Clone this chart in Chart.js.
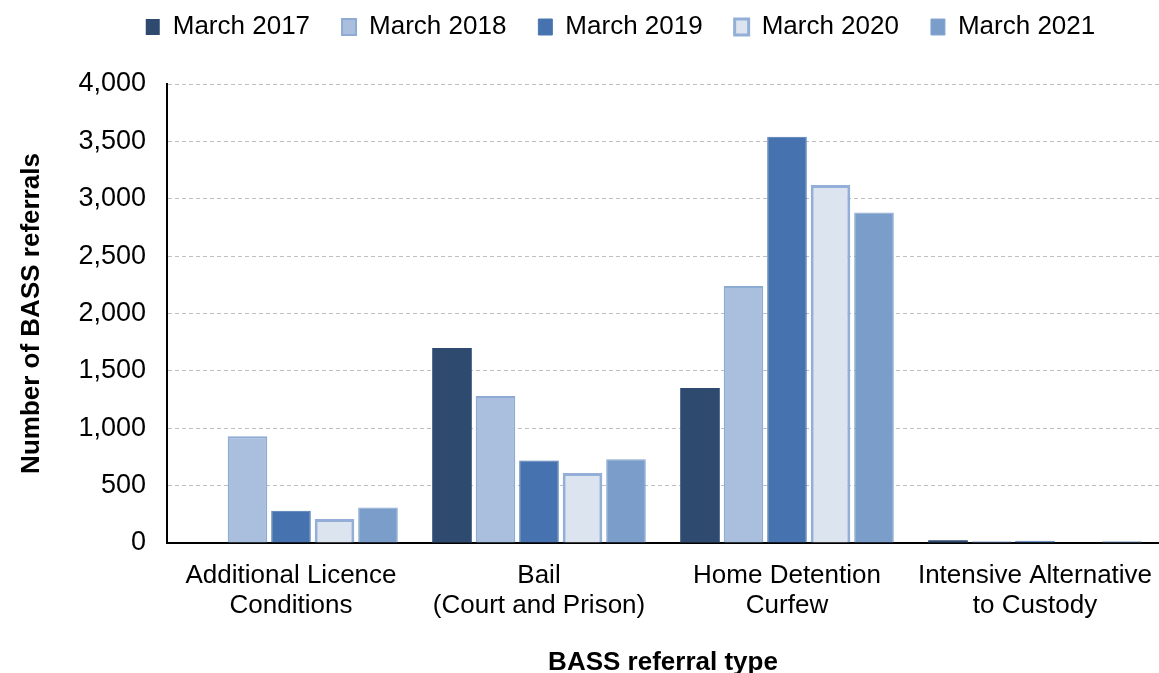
<!DOCTYPE html>
<html>
<head>
<meta charset="utf-8">
<script src="https://cdn.jsdelivr.net/npm/chart.js@4"></script>
<style>
  html, body { margin: 0; padding: 0; background: #ffffff; }
  #wrap { width: 1159px; height: 673px; position: relative; }
</style>
</head>
<body>
<div id="wrap"><canvas id="c"></canvas></div>
<script>
const categories = [
  ["Additional Licence", "Conditions"],
  ["Bail", "(Court and Prison)"],
  ["Home Detention", "Curfew"],
  ["Intensive Alternative", "to Custody"]
];
const seriesNames = ["March 2017", "March 2018", "March 2019", "March 2020", "March 2021"];
const march2017 = [null, 1700, 1350, 25];
const march2018 = [930, 1280, 2240, 15];
const march2019 = [280, 720, 3540, 20];
const march2020 = [210, 610, 3120, 0];
const march2021 = [310, 730, 2880, 15];
const yTicks = [0, 500, 1000, 1500, 2000, 2500, 3000, 3500, 4000];

const FONT = "'Liberation Sans', Arial, sans-serif";

const styles = [
  { bg: "#2E4A6F", border: "#2E4A6F", bw: 0 },
  { bg: "#A9BFDD", border: "#8EABD4", bw: 2 },
  { bg: "#4673AF", border: "#4A76B1", bw: 1 },
  { bg: "#DCE4F0", border: "#93AFD7", bw: 3 },
  { bg: "#7A9DCA", border: "#86A6D0", bw: 1 }
];
const values = [march2017, march2018, march2019, march2020, march2021];

const datasets = seriesNames.map((name, i) => ({
  label: name,
  data: values[i],
  backgroundColor: styles[i].bg,
  borderColor: styles[i].border,
  borderWidth: styles[i].bw,
  borderSkipped: 'start',
  barPercentage: 0.91,
  categoryPercentage: 0.877
}));

const legendFix = {
  id: 'legendFix',
  beforeInit(chart) {
    const lg = chart.legend;
    if (lg) {
      const orig = lg.fit.bind(lg);
      lg.fit = function () { orig(); this.height = 102; };
    }
  },
  afterLayout(chart) {
    const lg = chart.legend;
    if (lg) { lg.left += 40; lg.right += 40; }
  }
};

new Chart(document.getElementById('c'), {
  type: 'bar',
  data: { labels: categories, datasets },
  plugins: [legendFix],
  options: {
    responsive: true,
    maintainAspectRatio: false,
    animation: false,
    layout: { padding: { top: -18, left: 0, right: -2, bottom: 0 } },
    plugins: {
      tooltip: { enabled: false },
      legend: {
        position: 'top',
        align: 'center',
        labels: {
          boxWidth: 14,
          boxHeight: 16,
          padding: 32,
          color: '#000',
          font: { family: FONT, size: 26 }
        }
      }
    },
    scales: {
      x: {
        grid: { display: false, drawTicks: false },
        border: { display: true, color: '#000', width: 2 },
        ticks: {
          color: '#000',
          padding: 18,
          maxRotation: 0,
          autoSkip: false,
          font: { family: FONT, size: 26, lineHeight: 1.15 }
        },
        title: {
          display: true,
          text: 'BASS referral type',
          color: '#000',
          padding: { top: 0, bottom: -3 },
          font: { family: FONT, size: 26, weight: 'bold', lineHeight: 1 }
        },
        afterFit(s) { s.height = 130; s.paddingLeft = 0; s.paddingRight = 0; }
      },
      y: {
        min: 0,
        max: 4000,
        afterBuildTicks(s) { s.ticks = yTicks.map(v => ({ value: v })); },
        grid: { color: '#BFBFBF', lineWidth: 1, drawTicks: false },
        border: { display: true, color: '#000', width: 2, dash: [4, 3] },
        ticks: {
          color: '#000',
          padding: 21,
          font: { family: FONT, size: 27 },
          callback: v => Number(v).toLocaleString('en-US')
        },
        title: {
          display: true,
          text: 'Number of BASS referrals',
          color: '#000',
          padding: { top: 19, bottom: 0 },
          font: { family: FONT, size: 26, weight: 'bold', lineHeight: 1 }
        },
        afterFit(s) { s.width = 167; }
      }
    }
  }
});
</script>
</body>
</html>
